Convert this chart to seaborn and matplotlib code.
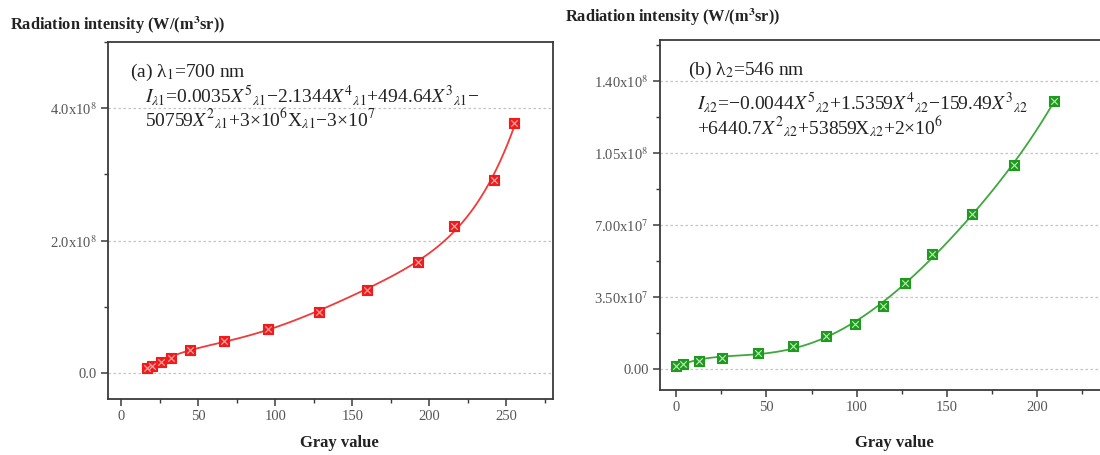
import numpy as np
import pandas as pd
import matplotlib
matplotlib.use("Agg")
import matplotlib.pyplot as plt
import seaborn as sns
from matplotlib.ticker import FixedLocator, MultipleLocator

# ---------------- data ----------------
gray_a = [16.5, 19.7, 26.0, 32.2, 44.7, 66.6, 95.1, 128.1, 159.8, 192.8, 216.3, 242.3, 255.2]
rad_a = [7.5e6, 1.1e7, 1.7e7, 2.4e7, 3.46e7, 4.86e7, 6.77e7, 9.3e7, 1.263e8, 1.684e8, 2.226e8, 2.917e8, 3.774e8]

gray_b = [0.2, 3.6, 12.6, 25.4, 45.5, 64.9, 83.2, 99.3, 114.4, 126.7, 141.9, 163.8, 187.3, 209.3]
rad_b = [1.6e6, 2.7e6, 3.9e6, 5.6e6, 8.0e6, 1.13e7, 1.6e7, 2.23e7, 3.08e7, 4.18e7, 5.62e7, 7.53e7, 9.95e7, 1.305e8]

xticks_a = [0, 50, 100, 150, 200, 250]
yticks_a = [0, 2e8, 4e8]
ylabels_a = ["0.0", r"2.0x10$^{8}$", r"4.0x10$^{8}$"]

xticks_b = [0, 50, 100, 150, 200]
yticks_b = [0, 3.5e7, 7.0e7, 1.05e8, 1.40e8]
ylabels_b = ["0.00", r"3.50x10$^{7}$", r"7.00x10$^{7}$", r"1.05x10$^{8}$", r"1.40x10$^{8}$"]

ylabel_text = r"Radiation intensity (W/(m$^{\mathbf{3}}$sr))"
xlabel_text = "Gray value"
label_a = r"(a) λ$_{1}$=700 nm"
eq_a1 = (r"$I_{\lambda1}$=0.0035$X^{5}{}_{\lambda1}$−2.1344$X^{4}{}_{\lambda1}$"
         r"+494.64$X^{3}{}_{\lambda1}$−")
eq_a2 = r"50759$X^{2}{}_{\lambda1}$+3×10$^{6}$X$_{\lambda1}$−3×10$^{7}$"
label_b = r"(b) λ$_{2}$=546 nm"
eq_b1 = (r"$I_{\lambda2}$=−0.0044$X^{5}{}_{\lambda2}$+1.5359$X^{4}{}_{\lambda2}$"
         r"−159.49$X^{3}{}_{\lambda2}$")
eq_b2 = r"+6440.7$X^{2}{}_{\lambda2}$+53859X$_{\lambda2}$+2×10$^{6}$"

df_a = pd.DataFrame({"gray": gray_a, "rad": rad_a})
df_b = pd.DataFrame({"gray": gray_b, "rad": rad_b})

# ---------------- style ----------------
sns.set_theme(style="ticks")
plt.rcParams["font.family"] = ["Liberation Serif", "DejaVu Serif"]
plt.rcParams["mathtext.fontset"] = "stix"
plt.rcParams["axes.unicode_minus"] = True

W, H = 1100, 455
fig = plt.figure(figsize=(W / 100, H / 100), dpi=100)


def px_axes(x0, y0, x1, y1):
    return fig.add_axes([x0 / W, 1 - y1 / H, (x1 - x0) / W, (y1 - y0) / H])


ax_a = px_axes(108.3, 41.7, 553.0, 399.3)
ax_b = px_axes(660.0, 40.0, 1109.5, 390.0)

spine_col = "#3a3a3a"
tick_col = "#555555"


def style_axes(ax, xlim, ylim, xt, yt, ylabels, xminor, yminor):
    ax.set_xlim(*xlim)
    ax.set_ylim(*ylim)
    ax.xaxis.set_major_locator(FixedLocator(xt))
    ax.yaxis.set_major_locator(FixedLocator(yt))
    ax.set_yticklabels(ylabels)
    ax.xaxis.set_minor_locator(MultipleLocator(xminor))
    ax.yaxis.set_minor_locator(MultipleLocator(yminor))
    for s in ax.spines.values():
        s.set_visible(True)
        s.set_color(spine_col)
        s.set_linewidth(1.3)
    ax.tick_params(axis="both", which="major", direction="out", length=5, width=1.1,
                   color=spine_col, labelsize=10.5, labelcolor=tick_col, pad=3)
    ax.tick_params(axis="both", which="minor", direction="out", length=3, width=1.0,
                   color=spine_col)
    ax.tick_params(top=False, right=False, which="both")
    ax.grid(False)
    for y in yt:
        ax.axhline(y, color="#c4c4c4", lw=0.9, ls=(0, (2, 2)), zorder=0)
    ax.set_xlabel("")
    ax.set_ylabel("")


def draw(ax, df, line_col, face_col, cross_col):
    sns.regplot(data=df, x="gray", y="rad", order=5, ci=None, scatter=False, ax=ax,
                line_kws=dict(color=line_col, lw=1.3, zorder=2))
    sns.scatterplot(data=df, x="gray", y="rad", ax=ax, marker="s", s=60,
                    color=face_col, edgecolor=face_col, linewidth=0.8, zorder=3, legend=False)
    sns.scatterplot(data=df, x="gray", y="rad", ax=ax, marker="x", s=22,
                    color=cross_col, linewidth=0.8, zorder=4, legend=False)


draw(ax_a, df_a, "#f23a3a", "#f01c1c", "#ffb0b0")
draw(ax_b, df_b, "#3ea83e", "#1f9a1f", "#b8f0b8")

style_axes(ax_a, (-8.4, 280.3), (-3.9e7, 5.0e8), xticks_a, yticks_a, ylabels_a, 25, 1e8)
style_axes(ax_b, (-8.9, 240.0), (-1.0e7, 1.6e8), xticks_b, yticks_b, ylabels_b, 25, 1.75e7)

# axis labels
fig.text(339 / W, 1 - 443 / H, xlabel_text, ha="center", va="center",
         fontsize=12, fontweight="bold", color="#222222")
fig.text(894 / W, 1 - 443 / H, xlabel_text, ha="center", va="center",
         fontsize=12, fontweight="bold", color="#222222")
fig.text(10 / W, 1 - 25 / H, ylabel_text, ha="left", va="center",
         fontsize=11.8, fontweight="bold", color="#222222")
fig.text(565 / W, 1 - 17 / H, ylabel_text, ha="left", va="center",
         fontsize=11.8, fontweight="bold", color="#222222")

# annotations
txt_kw = dict(ha="left", va="center", fontsize=14, color="#222222")
fig.text(130 / W, 1 - 72 / H, label_a, **txt_kw)
fig.text(145 / W, 1 - 96 / H, eq_a1, **txt_kw)
fig.text(145 / W, 1 - 119 / H, eq_a2, **txt_kw)
fig.text(688 / W, 1 - 70 / H, label_b, **txt_kw)
fig.text(697 / W, 1 - 103 / H, eq_b1, **txt_kw)
fig.text(697 / W, 1 - 127 / H, eq_b2, **txt_kw)

fig.savefig("out.png", dpi=100)
